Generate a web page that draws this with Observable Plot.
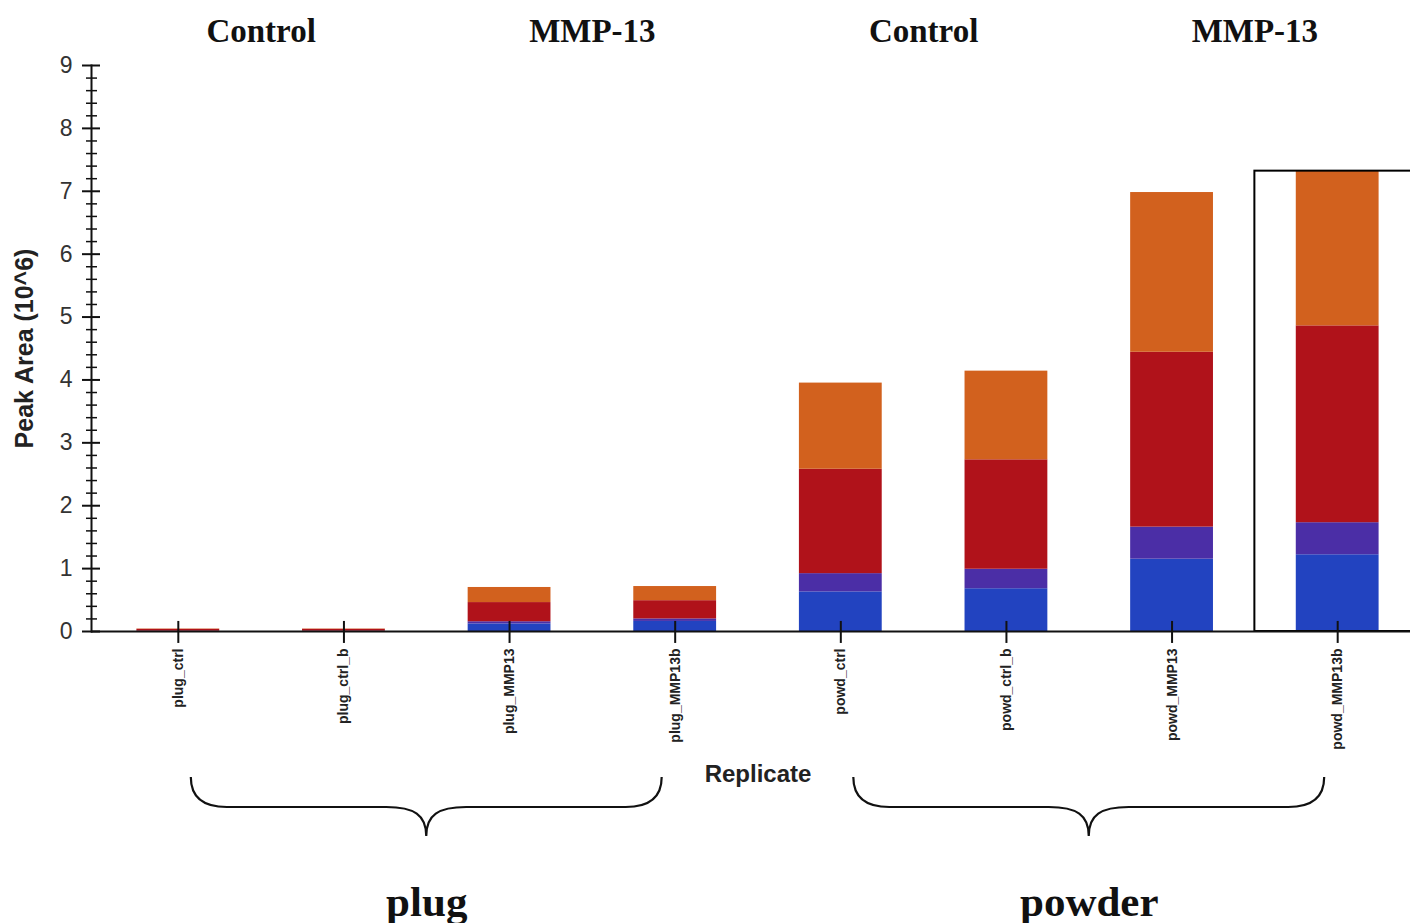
<!DOCTYPE html>
<html><head><meta charset="utf-8">
<script src="https://cdn.jsdelivr.net/npm/d3@7"></script>
<script src="https://cdn.jsdelivr.net/npm/@observablehq/plot@0.6"></script>
<style>body{margin:0;background:#fff}svg{display:block}</style>
</head><body><div id="chart"></div>
<script>
// ---- data ----
const replicates = ["plug_ctrl","plug_ctrl_b","plug_MMP13","plug_MMP13b","powd_ctrl","powd_ctrl_b","powd_MMP13","powd_MMP13b"];
const segmentNames = ["Peak 1","Peak 2","Peak 3","Peak 4"];
const peak1 = [0.003, 0.003, 0.12, 0.16, 0.63, 0.68, 1.15, 1.22];
const peak2 = [0.002, 0.002, 0.035, 0.04, 0.29, 0.31, 0.51, 0.51];
const peak3 = [0.03, 0.03, 0.305, 0.29, 1.66, 1.74, 2.78, 3.13];
const peak4 = [0.005, 0.005, 0.24, 0.225, 1.37, 1.41, 2.54, 2.46];
const headerLabels = ["Control","MMP-13","Control","MMP-13"];
const headerFirst = ["plug_ctrl","plug_MMP13","powd_ctrl","powd_MMP13"];
const groupLabels = ["plug","powder"];
const groupStart = ["plug_ctrl","powd_ctrl"];
const groupEnd = ["plug_MMP13b","powd_MMP13b"];
const highlighted = ["powd_MMP13b"];
const yMajorTicks = [0,1,2,3,4,5,6,7,8,9];
const yTitle = "Peak Area (10^6)";
const xTitle = "Replicate";

// ---- layout ----
const W = 1410, H = 923, ML = 91, MT = 65, MB = 292, MR = 0;
const xRange = [95, 1420];
const pInner = 0.5, pOuter = 0.25;
const step = (xRange[1] - xRange[0]) / (replicates.length - pInner + 2 * pOuter);
const bw = step * (1 - pInner);
const colors = ["#2243c0", "#4b2ea6", "#b0121a", "#d2611e"];

const series = [peak1, peak2, peak3, peak4];
const rows = [];
replicates.forEach((r, i) => series.forEach((s, k) => rows.push({replicate: r, segment: segmentNames[k], value: s[i]})));
const totals = replicates.map((r, i) => ({replicate: r, total: series.reduce((a, s) => a + s[i], 0)}));
const yMinor = d3.range(0, 9.001, 0.2).map(v => Math.round(v * 10) / 10).filter(v => !Number.isInteger(v));

function midOf(a, b) {
  const ia = replicates.indexOf(a), ib = replicates.indexOf(b);
  const m = (ia + ib) / 2, base = Math.floor(m);
  return {x: replicates[base], dx: (m - base) * step};
}
const headerPos = headerFirst.map(f => midOf(f, replicates[replicates.indexOf(f) + 1]));
const groupPos = groupStart.map((s, i) => midOf(s, groupEnd[i]));
const xTitlePos = midOf(replicates[0], replicates[replicates.length - 1]);

const sans = "'Liberation Sans', Arial, sans-serif";
const serif = "'Liberation Serif', 'Times New Roman', serif";

const chart = Plot.plot({
  width: W, height: H,
  marginLeft: ML, marginTop: MT, marginBottom: MB, marginRight: MR,
  style: {fontFamily: sans, background: "#fff", overflow: "visible"},
  x: {type: "band", domain: replicates, range: xRange, paddingInner: pInner, paddingOuter: pOuter, round: false, axis: null},
  y: {domain: [0, 9], axis: null},
  color: {domain: segmentNames, range: colors},
  marks: [
    Plot.barY(rows, {x: "replicate", y: "value", fill: "segment"}),
    Plot.barY(totals.filter(d => highlighted.includes(d.replicate)), {
      x: "replicate", y: "total", fill: "none", stroke: "#000", strokeWidth: 2,
      insetLeft: -(step - bw) / 2, insetRight: -(step - bw) / 2
    }),
    Plot.ruleY([0], {stroke: "#111", strokeWidth: 2}),
    Plot.frame({anchor: "left", stroke: "#111", strokeWidth: 2}),
    Plot.ruleY(yMajorTicks, {y: d => d, stroke: "#111", strokeWidth: 2, insetLeft: -9, insetRight: W - MR - ML - 9}),
    Plot.ruleY(yMinor, {y: d => d, stroke: "#111", strokeWidth: 1.5, insetLeft: -5, insetRight: W - MR - ML - 6}),
    Plot.text(yMajorTicks, {y: d => d, text: d => String(d), frameAnchor: "left", dx: -19, textAnchor: "end", fontSize: 23, fill: "#333"}),
    Plot.ruleX(replicates, {x: d => d, y1: 0.16, y2: -0.19, stroke: "#111", strokeWidth: 2}),
    Plot.text(replicates, {x: d => d, frameAnchor: "bottom", lineAnchor: "middle", dy: 17, rotate: -90, textAnchor: "end", fontSize: 14, fontWeight: "bold", fill: "#222"}),
    Plot.text([yTitle], {y: 4.5, frameAnchor: "left", lineAnchor: "middle", textAnchor: "middle", dx: -67, rotate: -90, fontSize: 25, fontWeight: "bold", fill: "#222"}),
    Plot.text([xTitle], {x: () => xTitlePos.x, dx: xTitlePos.dx, frameAnchor: "bottom", lineAnchor: "middle", dy: 143, fontSize: 24, fontWeight: "bold", fill: "#222"}),
    Plot.text(headerLabels, {x: (d, i) => headerPos[i].x, dx: headerPos[0].dx, frameAnchor: "top", lineAnchor: "middle", dy: -34, fontSize: 33, fontWeight: "bold", fontFamily: serif, fill: "#111"}),
    Plot.text(groupLabels, {x: (d, i) => groupPos[i].x, dx: groupPos[0].dx, frameAnchor: "bottom", lineAnchor: "middle", dy: 271, fontSize: 43, fontWeight: "bold", fontFamily: serif, fill: "#111"})
  ]
});

// braces drawn with the chart's own scales
const xs = chart.scale("x"), ys = chart.scale("y");
const center = c => xs.apply(c) + xs.bandwidth / 2;
const y0 = ys.apply(0);
const svg = d3.select(chart);
groupStart.forEach((s, i) => {
  const x0 = center(s) + 13, x1 = center(groupEnd[i]) - 13, xm = (x0 + x1) / 2;
  const yTop = y0 + 146, yFlat = y0 + 176, yTip = y0 + 205;
  const p = d3.path();
  p.moveTo(x0, yTop);
  p.quadraticCurveTo(x0, yFlat, x0 + 36, yFlat);
  p.lineTo(xm - 40, yFlat);
  p.bezierCurveTo(xm - 12, yFlat, xm, yFlat + 8, xm, yTip);
  p.bezierCurveTo(xm, yFlat + 8, xm + 12, yFlat, xm + 40, yFlat);
  p.lineTo(x1 - 36, yFlat);
  p.quadraticCurveTo(x1, yFlat, x1, yTop);
  svg.append("path").attr("d", p.toString()).attr("fill", "none").attr("stroke", "#111").attr("stroke-width", 2.2);
});

document.getElementById("chart").appendChild(chart);
</script>
</body></html>
